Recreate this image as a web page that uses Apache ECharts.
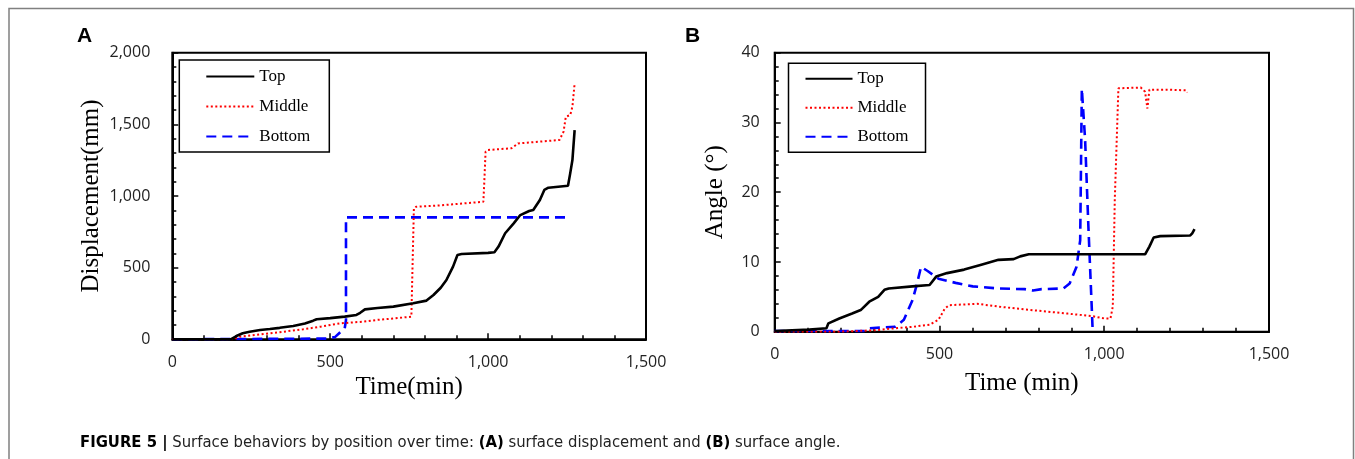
<!DOCTYPE html>
<html>
<head>
<meta charset="utf-8">
<script src="https://cdn.jsdelivr.net/npm/echarts@6/dist/echarts.min.js"></script>
<style>
  html, body { margin: 0; padding: 0; background: #fff; }
  #chart { width: 1355px; height: 459px; }
</style>
</head>
<body>
<div id="chart"></div>
<script>
// Series names (legend)
const seriesNames = ['Top', 'Middle', 'Bottom'];

// Axis ticks
const timeTicks = [0, 500, 1000, 1500];
const dispTicks = [0, 500, 1000, 1500, 2000];
const angleTicks = [0, 10, 20, 30, 40];

// (A) surface displacement, [time(min), displacement(mm)]
const dispTop = [[0,0],[185,0],[203,23],[223,42],[245,53],[278,65],[309,72],[340,80],[383,93],[420,110],[446,130],[457,140],[500,148],[546,158],[583,170],[595,185],[610,209],[650,218],[700,228],[763,251],[805,270],[827,309],[850,360],[868,414],[889,507],[903,588],[916,595],[1000,603],[1020,607],[1033,647],[1054,740],[1081,809],[1102,867],[1130,895],[1143,902],[1164,972],[1178,1042],[1191,1058],[1253,1072],[1260,1158],[1267,1251],[1274,1460]];
const dispMiddle = [[0,0],[195,0],[213,18],[260,30],[309,42],[360,55],[414,70],[470,88],[530,111],[604,123],[647,135],[700,145],[757,158],[760,170],[765,914],[772,925],[850,935],[985,960],[988,1100],[992,1309],[999,1321],[1074,1333],[1095,1367],[1226,1391],[1239,1449],[1246,1553],[1260,1565],[1267,1623],[1274,1786]];
const dispBottom = [[0,0],[490,5],[515,15],[530,46],[546,77],[550,135],[550,851],[1253,851]];

// (B) surface angle, [time(min), angle(deg)]
const angTop = [[0,0.1],[105,0.3],[157,0.5],[163,1.2],[196,1.9],[235,2.6],[261,3.1],[287,4.3],[314,5.0],[333,6.0],[346,6.2],[418,6.5],[470,6.7],[490,7.9],[523,8.4],[575,8.9],[627,9.6],[679,10.3],[725,10.4],[745,10.8],[771,11.1],[1124,11.1],[1137,12.2],[1150,13.5],[1170,13.7],[1261,13.8],[1267,14.1],[1274,14.7]];
const angMiddle = [[0,0],[196,0],[301,0.2],[366,0.5],[418,0.7],[470,1.0],[497,1.7],[516,3.3],[529,3.8],[614,4.0],[679,3.6],[758,3.2],[823,2.9],[889,2.6],[967,2.2],[1000,1.9],[1019,1.9],[1026,3.6],[1032,18.9],[1043,34.9],[1111,35.0],[1124,34.4],[1131,32.0],[1137,34.7],[1189,34.7],[1248,34.6],[1252,34.3]];
const angBottom = [[0,0.1],[274,0.1],[287,0.5],[366,0.7],[392,1.7],[418,4.5],[431,6.7],[444,9.3],[464,8.7],[497,7.6],[549,7.0],[601,6.5],[679,6.2],[758,6.1],[784,5.9],[810,6.1],[876,6.2],[895,6.9],[916,9.3],[927,13.1],[932,34.8],[942,27.5],[952,15],[962,3.6],[965,0]];

var chart = echarts.init(document.getElementById('chart'));

const serif = '"Liberation Serif", "Times New Roman", serif';
const sans = '"Open Sans", "Liberation Sans", sans-serif';
const capFont = '"Liberation Sans Narrow", "DejaVu Sans Condensed", "Liberation Sans", sans-serif';

const lineStyles = [
  { color: '#000', width: 2.6, type: 'solid' },
  { color: '#ff0000', width: 2, type: [2, 2.5] },
  { color: '#0000ff', width: 2.6, type: [10, 6] }
];

function mkSeries(name, data, idx, styleIdx) {
  return {
    name: name, type: 'line', data: data,
    xAxisIndex: idx, yAxisIndex: idx,
    symbol: 'none', showSymbol: false,
    lineStyle: lineStyles[styleIdx],
    itemStyle: { color: lineStyles[styleIdx].color },
    z: 3 - styleIdx
  };
}

function xAxisOf(gi, gap) {
  return {
    type: 'value', gridIndex: gi, min: timeTicks[0], max: timeTicks[timeTicks.length - 1], interval: 500,
    name: gi === 0 ? 'Time(min)' : 'Time (min)', nameLocation: 'middle', nameGap: gap,
    nameTextStyle: { fontFamily: serif, fontSize: 25, color: '#000' },
    axisLine: { show: true, onZero: false, lineStyle: { color: '#000', width: 2 } },
    axisTick: { show: true, inside: true, length: 6, lineStyle: { color: '#000', width: 1.5 } },
    minorTick: { show: true, splitNumber: 5, length: 4, lineStyle: { color: '#000', width: 1.5 } },
    axisLabel: { fontFamily: sans, fontSize: 16, color: '#222', margin: 15,
      formatter: v => v.toLocaleString('en-US') },
    splitLine: { show: false }
  };
}

function yAxisOf(gi, ticks, interval, name, gap, margin) {
  return {
    type: 'value', gridIndex: gi, min: ticks[0], max: ticks[ticks.length - 1], interval: interval,
    name: name, nameLocation: 'middle', nameGap: gap,
    nameTextStyle: { fontFamily: serif, fontSize: 25, color: '#000' },
    axisLine: { show: true, onZero: false, lineStyle: { color: '#000', width: 2 } },
    axisTick: { show: true, inside: true, length: 6, lineStyle: { color: '#000', width: 1.5 } },
    minorTick: { show: true, splitNumber: 5, length: 4, lineStyle: { color: '#000', width: 1.5 } },
    axisLabel: { fontFamily: sans, fontSize: 16, color: '#222', margin: margin,
      formatter: v => v.toLocaleString('en-US') },
    splitLine: { show: false }
  };
}

function legendOf(left, top, padding, itemWidth, itemGap) {
  return {
    show: true, orient: 'vertical', left: left, top: top,
    data: seriesNames, padding: padding, itemWidth: itemWidth, itemHeight: 14, itemGap: itemGap,
    borderColor: '#000', borderWidth: 1.5, backgroundColor: '#fff',
    // hide the marker, keep only the line sample
    itemStyle: { opacity: 0, borderWidth: 0 },
    textStyle: { fontFamily: serif, fontSize: 17, color: '#000' },
    selectedMode: false
  };
}

option = {
  animation: false,
  backgroundColor: '#fff',
  grid: [
    { left: 172.3, top: 52.7, width: 473.7, height: 286.6, show: true, borderColor: '#000', borderWidth: 2, backgroundColor: 'transparent' },
    { left: 774.7, top: 52.7, width: 494.3, height: 279, show: true, borderColor: '#000', borderWidth: 2, backgroundColor: 'transparent' }
  ],
  xAxis: [ xAxisOf(0, 25), xAxisOf(1, 39) ],
  yAxis: [
    yAxisOf(0, dispTicks, 500, 'Displacement(mm)', 68, 22),
    yAxisOf(1, angleTicks, 10, 'Angle (°)', 47, 15)
  ],
  legend: [
    legendOf(179.3, 60, [8, 19, 7, 26], 48, 13),
    legendOf(788.5, 63.3, [7, 17, 7, 16], 47, 12)
  ],
  series: [
    mkSeries('Top', dispTop, 0, 0),
    mkSeries('Middle', dispMiddle, 0, 1),
    mkSeries('Bottom', dispBottom, 0, 2),
    mkSeries('Top', angTop, 1, 0),
    mkSeries('Middle', angMiddle, 1, 1),
    mkSeries('Bottom', angBottom, 1, 2)
  ],
  graphic: [
    // figure frame (open at the bottom)
    { type: 'polyline', silent: true, shape: { points: [[9, 470], [9, 8.5], [1353.5, 8.5], [1353.5, 470]] },
      style: { stroke: '#808080', lineWidth: 1.5, fill: null } },
    { type: 'text', left: 77, top: 26, style: { text: 'A', font: 'bold 21px "Liberation Sans", Arial, sans-serif', fill: '#000' } },
    { type: 'text', left: 685, top: 26, style: { text: 'B', font: 'bold 21px "Liberation Sans", Arial, sans-serif', fill: '#000' } },
    { type: 'text', left: 80, top: 434,
      style: {
        text: '{b|FIGURE 5 |} Surface behaviors by position over time: {b|(A)} surface displacement and {b|(B)} surface angle.',
        font: '16.5px ' + capFont,
        fill: '#222',
        rich: {
          b: { fontWeight: 'bold', fontSize: 16.5, fontFamily: capFont, fill: '#000' }
        }
      } }
  ]
};

chart.setOption(option);
</script>
</body>
</html>
